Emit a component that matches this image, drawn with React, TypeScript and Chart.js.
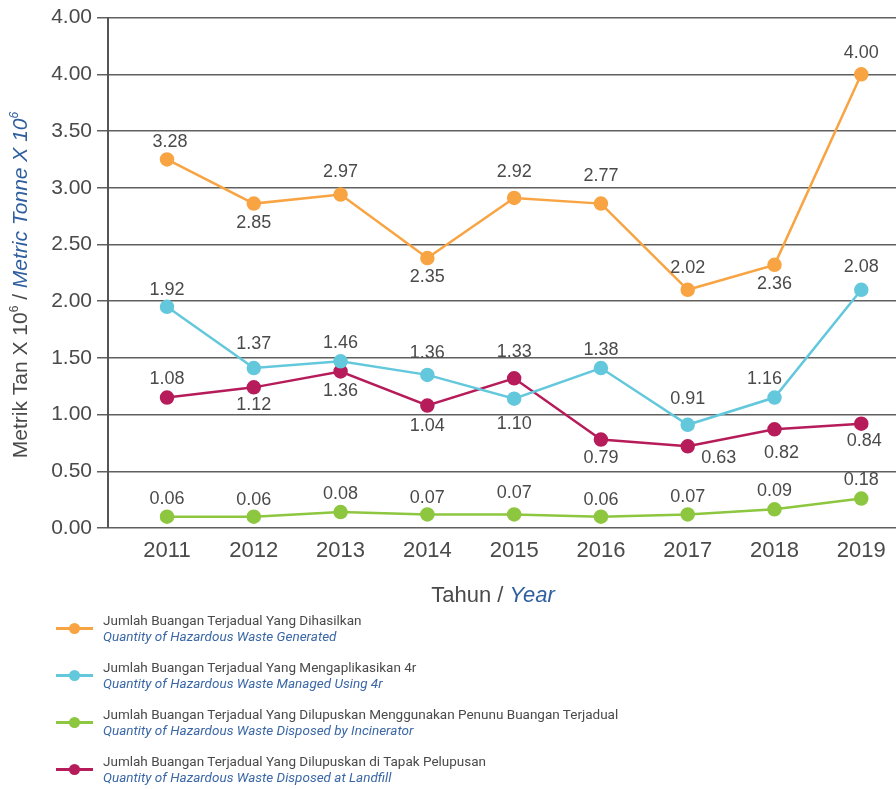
import { useEffect, useRef } from "react";
import { Chart, registerables } from "chart.js";

Chart.register(...registerables);

const YEARS = [2011, 2012, 2013, 2014, 2015, 2016, 2017, 2018, 2019];

// plotted positions (as drawn) and printed value labels (as written)
const GENERATED = [3.25, 2.86, 2.94, 2.38, 2.91, 2.86, 2.1, 2.32, 4.0];
const GENERATED_LABELS = ["3.28", "2.85", "2.97", "2.35", "2.92", "2.77", "2.02", "2.36", "4.00"];
const MANAGED_4R = [1.95, 1.41, 1.47, 1.35, 1.14, 1.41, 0.91, 1.15, 2.1];
const MANAGED_4R_LABELS = ["1.92", "1.37", "1.46", "1.36", "1.10", "1.38", "0.91", "1.16", "2.08"];
const INCINERATOR = [0.1, 0.1, 0.14, 0.12, 0.12, 0.1, 0.12, 0.165, 0.26];
const INCINERATOR_LABELS = ["0.06", "0.06", "0.08", "0.07", "0.07", "0.06", "0.07", "0.09", "0.18"];
const LANDFILL = [1.15, 1.24, 1.38, 1.08, 1.32, 0.78, 0.72, 0.87, 0.92];
const LANDFILL_LABELS = ["1.08", "1.12", "1.36", "1.04", "1.33", "0.79", "0.63", "0.82", "0.84"];

const Y_MIN = 0;
const Y_MAX = 4.5;
const Y_STEP = 0.5;
const Y_TOP_LABEL = "4.00";

const SERIES_MS = [
  "Jumlah Buangan Terjadual Yang Dihasilkan",
  "Jumlah Buangan Terjadual Yang Mengaplikasikan 4r",
  "Jumlah Buangan Terjadual Yang Dilupuskan Menggunakan Penunu Buangan Terjadual",
  "Jumlah Buangan Terjadual Yang Dilupuskan di Tapak Pelupusan",
];
const SERIES_EN = [
  "Quantity of Hazardous Waste Generated",
  "Quantity of Hazardous Waste Managed Using 4r",
  "Quantity of Hazardous Waste Disposed by Incinerator",
  "Quantity of Hazardous Waste Disposed at Landfill",
];

// styling / label placement (not data)
const COLORS = ["#F8A443", "#63C8DC", "#8DC63F", "#B71C5A"];
const LABEL_OFFSETS: number[][][] = [
  [[3, -17], [0, 19], [0, -23], [0, 19], [0, -26], [0, -28], [0, -22], [0, 19], [0, -21]],
  [[0, -17], [0, -24], [0, -18], [0, -22], [0, 25], [0, -18], [0, -26], [-10, -19], [0, -23]],
  [[0, -18], [0, -17], [0, -18], [0, -16], [0, -21], [0, -17], [0, -17], [0, -18], [0, -18]],
  [[0, -19], [0, 18], [0, 20], [0, 21], [0, -26], [0, 19], [31, 12], [7, 24], [3, 17]],
];

const FONT = "'Liberation Sans', Arial, sans-serif";
const TEXT = "#4a4a4a";
const BLUE_TEXT = "#2f5f9e";

const CANVAS_W = 896;
const CANVAS_H = 610;

function drawMixed(ctx: CanvasRenderingContext2D, parts: { t: string; c: string; italic?: boolean; sup?: boolean }[], size: number) {
  const fontFor = (p: any) => `${p.italic ? "italic " : ""}${p.sup ? Math.round(size * 0.55) : size}px ${FONT}`;
  let total = 0;
  for (const p of parts) {
    ctx.font = fontFor(p);
    total += ctx.measureText(p.t).width;
  }
  let x = -total / 2;
  ctx.textAlign = "left";
  ctx.textBaseline = "alphabetic";
  for (const p of parts) {
    ctx.font = fontFor(p);
    ctx.fillStyle = p.c;
    ctx.fillText(p.t, x, p.sup ? -size * 0.42 : 0);
    x += ctx.measureText(p.t).width;
  }
}

const LABEL_SETS = [GENERATED_LABELS, MANAGED_4R_LABELS, INCINERATOR_LABELS, LANDFILL_LABELS];

const overlayPlugin = {
  id: "overlay",
  afterDatasetsDraw(chart: any) {
    const ctx: CanvasRenderingContext2D = chart.ctx;
    ctx.save();
    ctx.font = `18px ${FONT}`;
    ctx.fillStyle = TEXT;
    ctx.textAlign = "center";
    ctx.textBaseline = "middle";
    chart.data.datasets.forEach((_: any, di: number) => {
      const meta = chart.getDatasetMeta(di);
      meta.data.forEach((pt: any, i: number) => {
        const [dx, dy] = LABEL_OFFSETS[di][i];
        ctx.fillText(LABEL_SETS[di][i], pt.x + dx, pt.y + dy);
      });
    });
    ctx.restore();
  },
  afterDraw(chart: any) {
    const ctx: CanvasRenderingContext2D = chart.ctx;
    // y-axis title
    ctx.save();
    ctx.translate(27, 285);
    ctx.rotate(-Math.PI / 2);
    drawMixed(
      ctx,
      [
        { t: "Metrik Tan X 10", c: TEXT },
        { t: "6", c: TEXT, sup: true },
        { t: " / ", c: TEXT },
        { t: "Metric Tonne X 10", c: BLUE_TEXT, italic: true },
        { t: "6", c: BLUE_TEXT, italic: true, sup: true },
      ],
      21
    );
    ctx.restore();
    // x-axis title
    ctx.save();
    ctx.translate(493, 602);
    drawMixed(
      ctx,
      [
        { t: "Tahun / ", c: TEXT },
        { t: "Year", c: BLUE_TEXT, italic: true },
      ],
      22
    );
    ctx.restore();
  },
};

export default function App() {
  const ref = useRef<HTMLCanvasElement | null>(null);

  useEffect(() => {
    if (!ref.current) return;
    const series = [GENERATED, MANAGED_4R, INCINERATOR, LANDFILL];
    const chart = new Chart(ref.current, {
      type: "line",
      data: {
        datasets: series.map((vals, si) => ({
          label: SERIES_EN[si],
          data: YEARS.map((yr, i) => ({ x: yr, y: vals[i] })),
          borderColor: COLORS[si],
          backgroundColor: COLORS[si],
          pointBackgroundColor: COLORS[si],
          pointBorderColor: COLORS[si],
          borderWidth: 2.5,
          pointRadius: 6,
          pointHoverRadius: 6,
          tension: 0,
          fill: false,
        })),
      },
      options: {
        animation: false,
        responsive: false,
        devicePixelRatio: 1,
        layout: { autoPadding: false, padding: { top: 17, left: 0, right: 0, bottom: 0 } },
        plugins: { legend: { display: false }, tooltip: { enabled: false } },
        scales: {
          x: {
            type: "linear",
            min: 2010.32,
            max: 2019.4,
            grid: { display: false, drawTicks: false },
            border: { display: false },
            ticks: {
              stepSize: 1,
              includeBounds: false,
              autoSkip: false,
              maxRotation: 0,
              padding: 10,
              color: TEXT,
              font: { family: FONT, size: 22 },
              callback: (v: any) => (Number.isInteger(v) ? String(v) : ""),
            },
            afterFit: (scale: any) => {
              scale.height = CANVAS_H - 528;
              scale.paddingLeft = 0;
              scale.paddingRight = 0;
            },
          },
          y: {
            min: Y_MIN,
            max: Y_MAX,
            grid: { color: "#606060", lineWidth: 1.5, tickLength: 11, drawTicks: true },
            border: { display: true, color: "#555555", width: 2 },
            ticks: {
              stepSize: Y_STEP,
              padding: 5,
              color: TEXT,
              font: { family: FONT, size: 21 },
              callback: (v: any) => (Math.abs(v - Y_MAX) < 1e-9 ? Y_TOP_LABEL : Number(v).toFixed(2)),
            },
            afterFit: (scale: any) => {
              scale.width = 108;
            },
          },
        },
      },
      plugins: [overlayPlugin],
    } as any);
    return () => chart.destroy();
  }, []);

  const legendY = [628, 675, 722, 769];

  return (
    <div style={{ position: "absolute", left: 0, top: 0, width: 896, height: 789, background: "#fff", overflow: "hidden" }}>
      <canvas ref={ref} width={CANVAS_W} height={CANVAS_H} style={{ display: "block", width: CANVAS_W, height: CANVAS_H }} />
      {SERIES_MS.map((ms, i) => (
        <div key={i} style={{ position: "absolute", left: 0, top: legendY[i] - 20, height: 40, width: 896 }}>
          <div style={{ position: "absolute", left: 56, top: 18.5, width: 37, height: 3, background: COLORS[i] }} />
          <div
            style={{
              position: "absolute",
              left: 68.5,
              top: 14.5,
              width: 11,
              height: 11,
              borderRadius: "50%",
              background: COLORS[i],
            }}
          />
          <div
            style={{
              position: "absolute",
              left: 103,
              top: 4,
              fontFamily: "Roboto, 'Noto Sans', sans-serif",
              fontSize: 13.5,
              lineHeight: "16px",
              whiteSpace: "nowrap",
            }}
          >
            <div style={{ color: "#4a4a4a" }}>{ms}</div>
            <div style={{ color: "#3a67a6", fontStyle: "italic" }}>{SERIES_EN[i]}</div>
          </div>
        </div>
      ))}
    </div>
  );
}
